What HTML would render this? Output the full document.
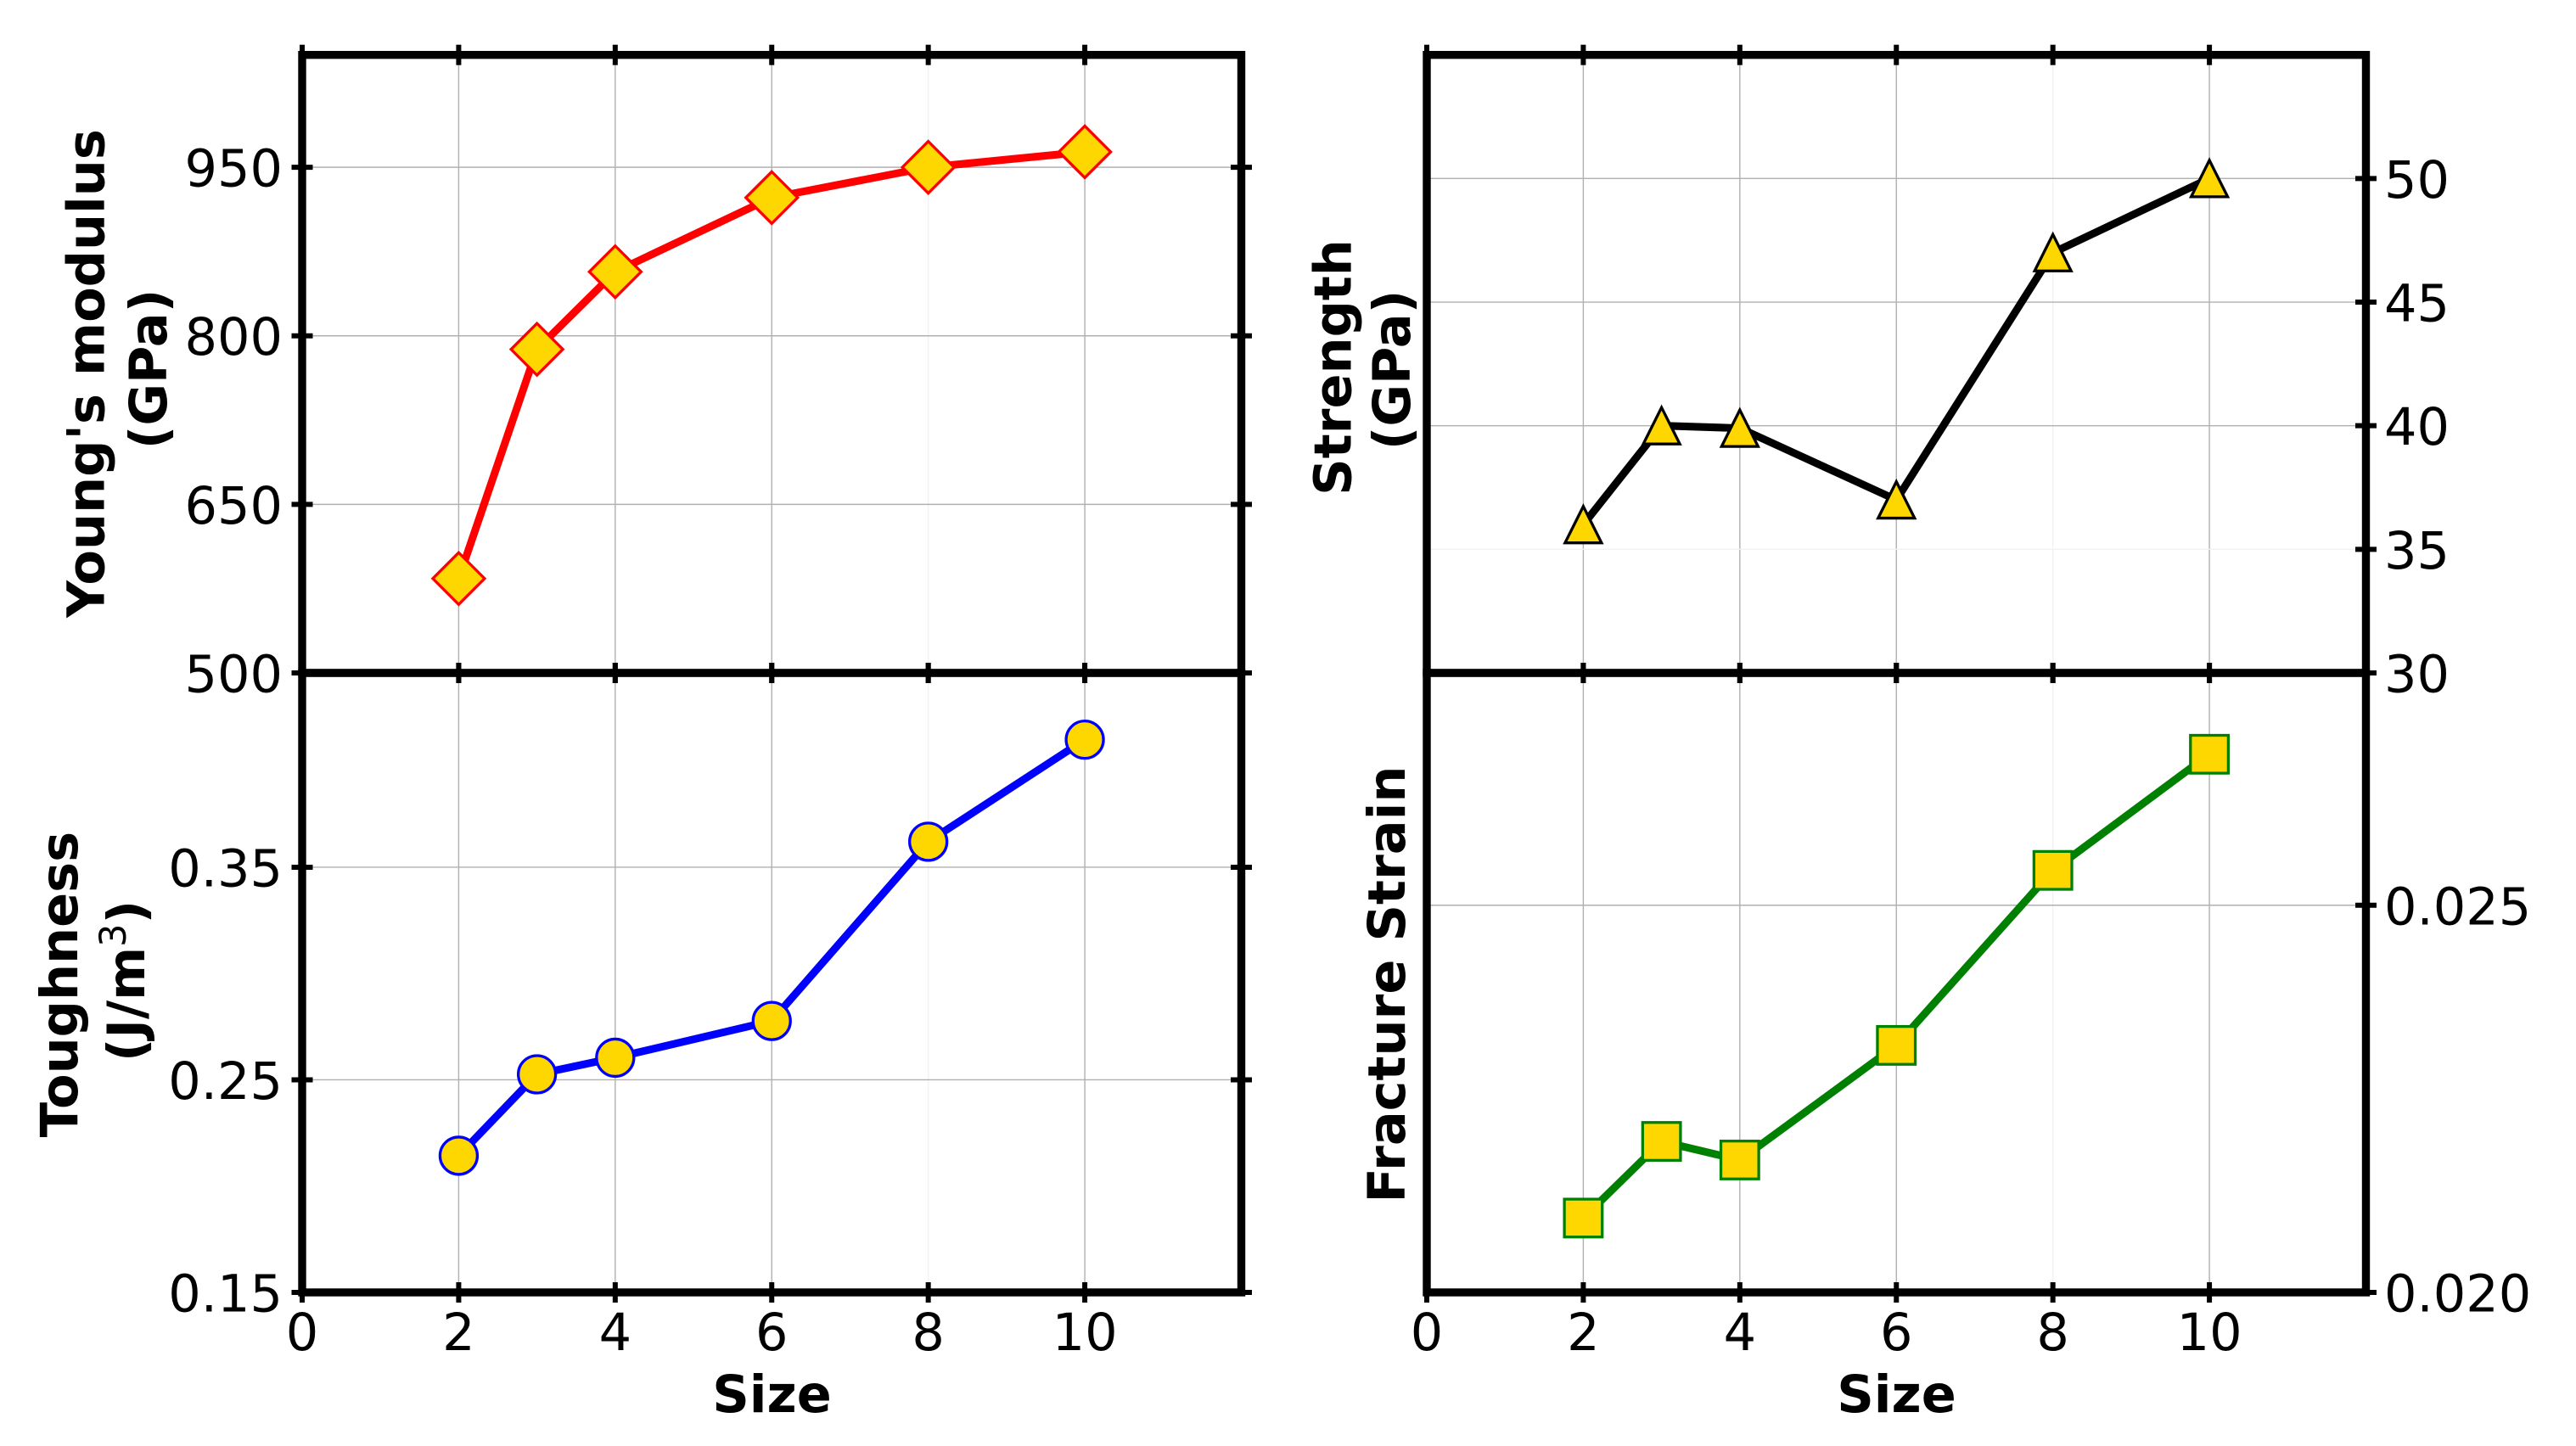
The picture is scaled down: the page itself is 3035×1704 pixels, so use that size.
<!DOCTYPE html>
<html lang="en">
<head>
<meta charset="utf-8">
<title>Mechanical properties vs size</title>
<style>
  html, body { margin: 0; padding: 0; background: #ffffff; }
  svg { display: block; }
  text { font-family: "DejaVu Sans", "Liberation Sans", sans-serif; font-size: 60.5px; fill: #000; }
  .bold { font-weight: 700; }
</style>
</head>
<body>
<svg id="figure" xmlns="http://www.w3.org/2000/svg" width="3035" height="1704" viewBox="0 0 3035 1704">
  <rect x="0" y="0" width="3035" height="1704" fill="#ffffff"/>
  <g id="panels"></g>

  <g>
    <text class="bold" transform="translate(122.5 440) rotate(-90)" text-anchor="middle">Young's modulus</text>
    <text class="bold" transform="translate(196 435) rotate(-90)" text-anchor="middle">(GPa)</text>
    <text class="bold" transform="translate(91 1160) rotate(-90)" text-anchor="middle">Toughness</text>
    <text class="bold" transform="translate(170 1156) rotate(-90)" text-anchor="middle">(J/m<tspan font-weight="400" font-size="43px" dy="-22">3</tspan><tspan dy="22">)</tspan></text>
    <text class="bold" transform="translate(1591.7 433) rotate(-90)" text-anchor="middle">Strength</text>
    <text class="bold" transform="translate(1661 436) rotate(-90)" text-anchor="middle">(GPa)</text>
    <text class="bold" transform="translate(1655 1160) rotate(-90)" text-anchor="middle">Fracture Strain</text>
    <text class="bold" x="909.5" y="1664" text-anchor="middle">Size</text>
    <text class="bold" x="2234.5" y="1664" text-anchor="middle">Size</text>
  </g>
</svg>

<script>
// ---- chart data ----
const sizes = [2, 3, 4, 6, 8, 10];
const youngsModulus = [584, 788, 857, 923, 950, 963.7];
const strength = [36, 40, 39.9, 37, 47, 50];
const toughness = [0.2143, 0.2526, 0.2604, 0.2777, 0.362, 0.41];
const fractureStrain = [0.02096, 0.02195, 0.02171, 0.02319, 0.02545, 0.02695];

const xTickValues = [0, 2, 4, 6, 8, 10];
const xTickLabels = ['0', '2', '4', '6', '8', '10'];
const youngsTickValues = [500, 650, 800, 950];
const youngsTickLabels = ['500', '650', '800', '950'];
const strengthTickValues = [30, 35, 40, 45, 50];
const strengthTickLabels = ['30', '35', '40', '45', '50'];
const toughnessTickValues = [0.15, 0.25, 0.35];
const toughnessTickLabels = ['0.15', '0.25', '0.35'];
const strainTickValues = [0.020, 0.025];
const strainTickLabels = ['0.020', '0.025'];

const xDomain = [0, 12];
const youngsDomain = [500, 1050];
const strengthDomain = [30, 55];
const toughnessDomain = [0.15, 0.4414];
const strainDomain = [0.020, 0.028];

// ---- drawing helpers ----
const NS = 'http://www.w3.org/2000/svg';
const root = document.getElementById('panels');

function make(tag, parent, attrs) {
  const el = document.createElementNS(NS, tag);
  for (const k in attrs) el.setAttribute(k, attrs[k]);
  parent.appendChild(el);
  return el;
}

function linearScale(domain, r0, r1) {
  return function (v) {
    return r0 + (v - domain[0]) / (domain[1] - domain[0]) * (r1 - r0);
  };
}

function drawMarker(parent, shape, cx, cy, color) {
  const base = { fill: '#ffd700', stroke: color, 'stroke-width': 3.3, 'stroke-linejoin': 'miter' };
  let el;
  if (shape === 'diamond') {
    const d = 30.5;
    el = make('polygon', parent, Object.assign({ points: [cx, cy - d, cx + d, cy, cx, cy + d, cx - d, cy].join(' ') }, base));
  } else if (shape === 'triangle') {
    const t = 21.5;
    el = make('polygon', parent, Object.assign({ points: [cx, cy - t, cx + t, cy + t, cx - t, cy + t].join(' ') }, base));
  } else if (shape === 'circle') {
    el = make('circle', parent, Object.assign({ cx: cx, cy: cy, r: 22 }, base));
  } else {
    const s = 22.3;
    el = make('rect', parent, Object.assign({ x: cx - s, y: cy - s, width: 2 * s, height: 2 * s }, base));
  }
  return el;
}

function drawPanel(p) {
  const g = make('g', root, {});
  
  

  const x = linearScale(xDomain, p.left, p.right);
  const y = linearScale(p.yDomain, p.bottom, p.top);

  // grid
  const grid = make('g', g, {});
  
  
  xTickValues.forEach(function (v) {
    if (v === 0) return;
    const faint = v === 8;
    const l = make('line', grid, { x1: x(v), x2: x(v), y1: p.top, y2: p.bottom, stroke: faint ? '#f2f2f2' : '#b0b0b0', 'stroke-width': 1.4 });
    
    
  });
  p.yTicks.forEach(function (v, i) {
    if (i === 0) return;
    const faint = p.faintY && p.faintY.indexOf(v) >= 0;
    const l = make('line', grid, { x1: p.left, x2: p.right, y1: y(v), y2: y(v), stroke: faint ? '#f2f2f2' : '#b0b0b0', 'stroke-width': 1.4 });
    
    
  });

  // series line
  const pts = sizes.map(function (s, i) { return x(s) + ',' + y(p.values[i]); }).join(' ');
  const line = make('polyline', g, { points: pts, fill: 'none', stroke: p.color, 'stroke-width': 9, 'stroke-linejoin': 'round' });
  
  

  // markers
  sizes.forEach(function (s, i) {
    const m = drawMarker(g, p.marker, x(s), y(p.values[i]), p.color);
    
    
  });

  // spines
  const frame = make('rect', g, { x: p.left, y: p.top, width: p.right - p.left, height: p.bottom - p.top, fill: 'none', stroke: '#000', 'stroke-width': 9.4, 'stroke-linejoin': 'miter' });
  
  

  // x ticks (top and bottom, straddling the frame)
  xTickValues.forEach(function (v) {
    [p.top, p.bottom].forEach(function (yy) {
      const t = make('line', g, { x1: x(v), x2: x(v), y1: yy - 12, y2: yy + 12, stroke: '#000', 'stroke-width': 6 });
      
      
    });
  });
  if (p.showXLabels) {
    xTickValues.forEach(function (v, i) {
      const lbl = make('text', g, { x: x(v), y: 1591, 'text-anchor': 'middle' });
      lbl.textContent = xTickLabels[i];
      
      
    });
  }

  // y ticks
  p.yTicks.forEach(function (v, i) {
    p.tickSides.forEach(function (xx) {
      const t = make('line', g, { x1: xx - 12.5, x2: xx + 12.5, y1: y(v), y2: y(v), stroke: '#000', 'stroke-width': 6 });
      
      
    });
    const lbl = make('text', g, { x: p.labelX, y: y(v) + 22.5, 'text-anchor': p.labelAnchor });
    lbl.textContent = p.yLabels[i];
    
    
  });
}

const LEFT_X0 = 356, LEFT_X1 = 1462.5, RIGHT_X0 = 1681, RIGHT_X1 = 2787.5;
const ROW_TOP = 64.7, ROW_MID = 793, ROW_BOTTOM = 1523;

drawPanel({
  name: 'youngs-modulus', left: LEFT_X0, right: LEFT_X1, top: ROW_TOP, bottom: ROW_MID,
  yDomain: youngsDomain, values: youngsModulus, yTicks: youngsTickValues, yLabels: youngsTickLabels,
  color: '#ff0000', marker: 'diamond', tickSides: [LEFT_X0, LEFT_X1], labelX: 333, labelAnchor: 'end', showXLabels: false
});
drawPanel({
  name: 'strength', left: RIGHT_X0, right: RIGHT_X1, top: ROW_TOP, bottom: ROW_MID,
  yDomain: strengthDomain, values: strength, yTicks: strengthTickValues, yLabels: strengthTickLabels,
  color: '#000000', marker: 'triangle', tickSides: [RIGHT_X1], labelX: 2809, labelAnchor: 'start', showXLabels: false,
  faintY: [35]
});
drawPanel({
  name: 'toughness', left: LEFT_X0, right: LEFT_X1, top: ROW_MID, bottom: ROW_BOTTOM,
  yDomain: toughnessDomain, values: toughness, yTicks: toughnessTickValues, yLabels: toughnessTickLabels,
  color: '#0000ff', marker: 'circle', tickSides: [LEFT_X0, LEFT_X1], labelX: 333, labelAnchor: 'end', showXLabels: true
});
drawPanel({
  name: 'fracture-strain', left: RIGHT_X0, right: RIGHT_X1, top: ROW_MID, bottom: ROW_BOTTOM,
  yDomain: strainDomain, values: fractureStrain, yTicks: strainTickValues, yLabels: strainTickLabels,
  color: '#008000', marker: 'square', tickSides: [RIGHT_X1], labelX: 2809, labelAnchor: 'start', showXLabels: true
});
</script>
</body>
</html>
